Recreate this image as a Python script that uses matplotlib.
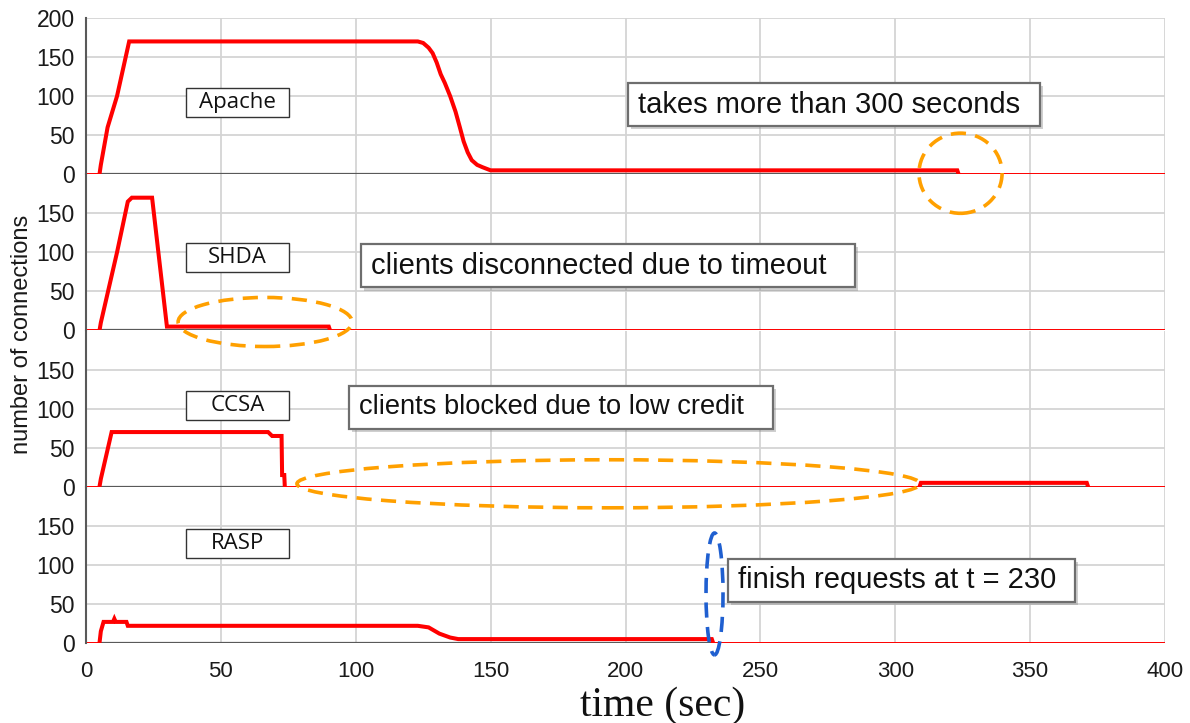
import matplotlib
matplotlib.use('Agg')
import matplotlib.pyplot as plt
from matplotlib import font_manager
from matplotlib.patches import Rectangle, Ellipse
import matplotlib.patheffects as pe

# ---------------- data ----------------
apache_t = [5, 5.5, 8, 11.5, 16, 123, 125, 127, 128.5, 130, 131.5, 133, 135, 137, 138.6, 140, 141.5, 143, 145, 147, 150, 323, 323.5]
apache_y = [0, 12, 60, 100, 170, 170, 168, 162, 155, 143, 128, 117, 100, 80, 60, 42, 28, 18, 12, 9, 5, 5, 0]

shda_t = [5, 5.5, 11.5, 15.5, 17, 24.5, 30, 90, 90.5]
shda_y = [0, 10, 100, 165, 170, 170, 5, 5, 0]

ccsa_t = [5, 5.5, 9.5, 67.5, 69, 72.5, 72.7, 73.5, 73.7]
ccsa_y = [0, 10, 70, 70, 65, 65, 15, 15, 0]
ccsa2_t = [309, 309.5, 371, 371.5]
ccsa2_y = [0, 5, 5, 0]

rasp_t = [5, 5.5, 6.5, 10, 10.5, 11, 15, 15.5, 123, 127, 131, 135, 138, 232, 232.5]
rasp_y = [0, 15, 27, 27, 31, 27, 27, 22, 22, 20, 12, 7, 5, 5, 0]

panel_names = ["Apache", "SHDA", "CCSA", "RASP"]
x_ticks = [0, 50, 100, 150, 200, 250, 300, 350, 400]
y_ticks = [0, 50, 100, 150]
notes = ["takes more than 300 seconds", "clients disconnected due to timeout",
         "clients blocked due to low credit", "finish requests at t = 230"]

# ---------------- fonts ----------------
names = {f.name for f in font_manager.fontManager.ttflist}
SANS = 'Liberation Sans' if 'Liberation Sans' in names else 'DejaVu Sans'
NARROW = 'Liberation Sans Narrow' if 'Liberation Sans Narrow' in names else SANS
LABF = 'Open Sans' if 'Open Sans' in names else SANS
SERIF = 'Liberation Serif' if 'Liberation Serif' in names else 'DejaVu Serif'

W, H = 1190, 723
fig = plt.figure(figsize=(W / 100, H / 100), dpi=100)

left_px, right_px, top_px, bot_px = 86, 1165, 18, 643
ph = (bot_px - top_px) / 4.0

series = [
    [(apache_t, apache_y)],
    [(shda_t, shda_y)],
    [(ccsa_t, ccsa_y), (ccsa2_t, ccsa2_y)],
    [(rasp_t, rasp_y)],
]

RED = '#ff0000'
GRID = '#d4d4d4'
DARK = '#595959'
ORANGE = '#ffa000'
BLUE = '#1f5fd0'

axes = []
for i in range(4):
    y0 = top_px + i * ph
    ax = fig.add_axes([left_px / W, 1 - (y0 + ph) / H, (right_px - left_px) / W, ph / H])
    ax.set_zorder(10 - i)
    ax.patch.set_visible(False)
    ax.set_xlim(0, 400)
    ax.set_ylim(0, 200)
    ax.set_xticks(x_ticks)
    ax.set_yticks(y_ticks + ([200] if i == 0 else []))
    ax.grid(True, color=GRID, lw=1.3, zorder=0)
    ax.set_axisbelow(True)
    for s in ['top', 'right', 'bottom']:
        ax.spines[s].set_visible(False)
    ax.spines['left'].set_color(DARK)
    ax.spines['left'].set_linewidth(1.5)
    ax.tick_params(length=0)
    ax.tick_params(axis='y', pad=8)
    for lab in ax.get_yticklabels():
        lab.set_fontfamily(SANS)
        lab.set_fontsize(16.5)
        lab.set_color('#1a1a1a')
    if i < 3:
        ax.set_xticklabels([])
    else:
        ax.tick_params(axis='x', pad=13)
        for lab in ax.get_xticklabels():
            lab.set_fontfamily(NARROW)
            lab.set_fontsize(16)
            lab.set_color('#1a1a1a')
    # thin red zero line across, dark baseline under data spans
    ax.plot([0, 400], [0, 0], color=RED, lw=1.4, zorder=2, solid_capstyle='butt')
    for t, y in series[i]:
        ax.plot([t[0], t[-1]], [0, 0], color=DARK, lw=1.6, zorder=3, solid_capstyle='butt')
        ax.plot(t, y, color=RED, lw=2.9, zorder=4, solid_joinstyle='miter')
    axes.append(ax)

# panel name boxes
name_y = [92, 94, 104.5, 127.6]
for ax, nm, yc in zip(axes, panel_names, name_y):
    x0, x1 = 37.1, 75.3
    hh = 37
    ax.add_patch(Rectangle((x0, yc - hh / 2), x1 - x0, hh, facecolor='white',
                           edgecolor='#333333', lw=1.0, zorder=6))
    ax.text((x0 + x1) / 2, yc, nm, ha='center', va='center', fontsize=16,
            family=LABF, color='#111111', zorder=7)

# annotation boxes with shadow
note_boxes = [
    (200.9, 353.7, 61.5, 116.7),
    (101.9, 285.1, 55.1, 110.3),
    (97.5, 254.7, 74.4, 129.5),
    (238.0, 366.6, 52.6, 107.7),
]
note_sizes = [21, 21, 19.6, 21]
for ax, txt, (x0, x1, y0, y1), fs in zip(axes, notes, note_boxes, note_sizes):
    r = Rectangle((x0, y0), x1 - x0, y1 - y0, facecolor='white', edgecolor='#6e6e6e',
                  lw=1.6, zorder=8, clip_on=False)
    r.set_path_effects([pe.SimplePatchShadow(offset=(2.2, -2.2), shadow_rgbFace='#888888', alpha=0.4),
                        pe.Normal()])
    ax.add_patch(r)
    ax.text(x0 + 3.7, (y0 + y1) / 2, txt, ha='left', va='center', fontsize=fs,
            family=SANS, color='#111111', zorder=9, clip_on=False)

# dashed ellipses
ells = [
    (0, 324.2, 1.3, 30.8, 102.6, ORANGE),
    (1, 66.4, 10.9, 64.5, 62.8, ORANGE),
    (2, 193.7, 3.8, 231.0, 61.5, ORANGE),
    (3, 233.0, 62.8, 6.3, 156.0, BLUE),
]
for idx, cx, cy, w, h, col in ells:
    e = Ellipse((cx, cy), w, h, facecolor='none', edgecolor=col, lw=2.6,
                linestyle=(0, (4.2, 2.6)), zorder=9, clip_on=False)
    axes[idx].add_patch(e)

fig.text(22 / W, 1 - 334 / H, 'number of connections', rotation=90, ha='center', va='center',
         fontsize=17, family=SANS, color='#1a1a1a')
fig.text(663 / W, 7 / H, 'time (sec)', ha='center', va='baseline', fontsize=30,
         family=SERIF, color='#111111')

fig.savefig('out.png', dpi=100, facecolor='white')
